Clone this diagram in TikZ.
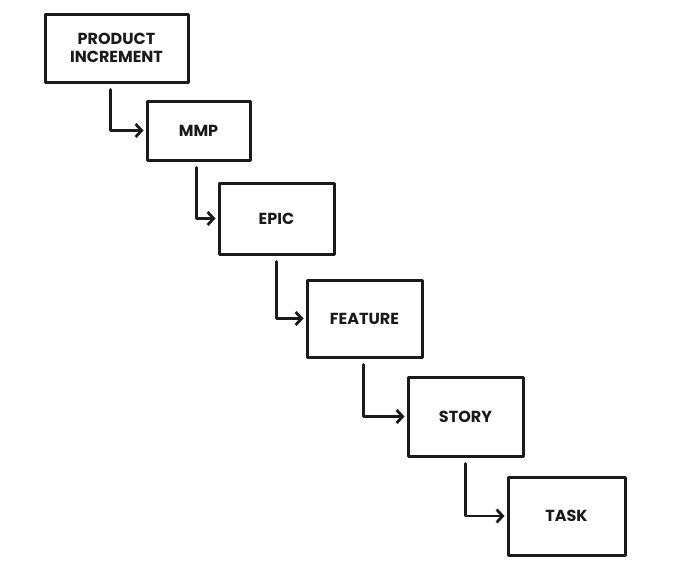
\documentclass[tikz,border=0pt]{standalone}
\usepackage{fontspec}
\setmainfont{Poppins}
\usetikzlibrary{arrows.meta}
\definecolor{ink}{HTML}{1A1A1A}
\begin{document}
\begin{tikzpicture}[x=1pt,y=-1pt,
  box/.style={draw=ink,line width=3pt,rectangle,inner sep=0pt,align=center,
    font=\fontsize{16}{18.5}\selectfont\bfseries,text=ink,line join=round},
  conn/.style={draw=ink,line width=2.8pt,line cap=round,line join=round,
    -{Straight Barb[length=6pt,width=13pt,line width=2.8pt]},shorten <=6pt,shorten >=2pt}]
\useasboundingbox (0,0) rectangle (680,570);
\node[box,minimum width=143pt,minimum height=68pt] (pi) at (116.5,48) {PRODUCT\\INCREMENT};
\node[box,minimum width=103pt,minimum height=59pt] (mmp) at (198.5,130.5) {MMP};
\node[box,minimum width=115pt,minimum height=71pt] (epic) at (276.5,218.5) {EPIC};
\node[box,minimum width=115pt,minimum height=77pt] (feat) at (364.5,318.5) {FEATURE};
\node[box,minimum width=115pt,minimum height=79pt] (story) at (465.5,416.5) {STORY};
\node[box,minimum width=117pt,minimum height=78pt] (task) at (566.5,516) {TASK};
\draw[conn] ([xshift=-6pt]pi.south) |- (mmp.west);
\draw[conn] ([xshift=-2pt]mmp.south) |- (epic.west);
\draw[conn] (epic.south) |- (feat.west);
\draw[conn] ([xshift=-1pt]feat.south) |- (story.west);
\draw[conn] (story.south) |- (task.west);
\end{tikzpicture}
\end{document}
